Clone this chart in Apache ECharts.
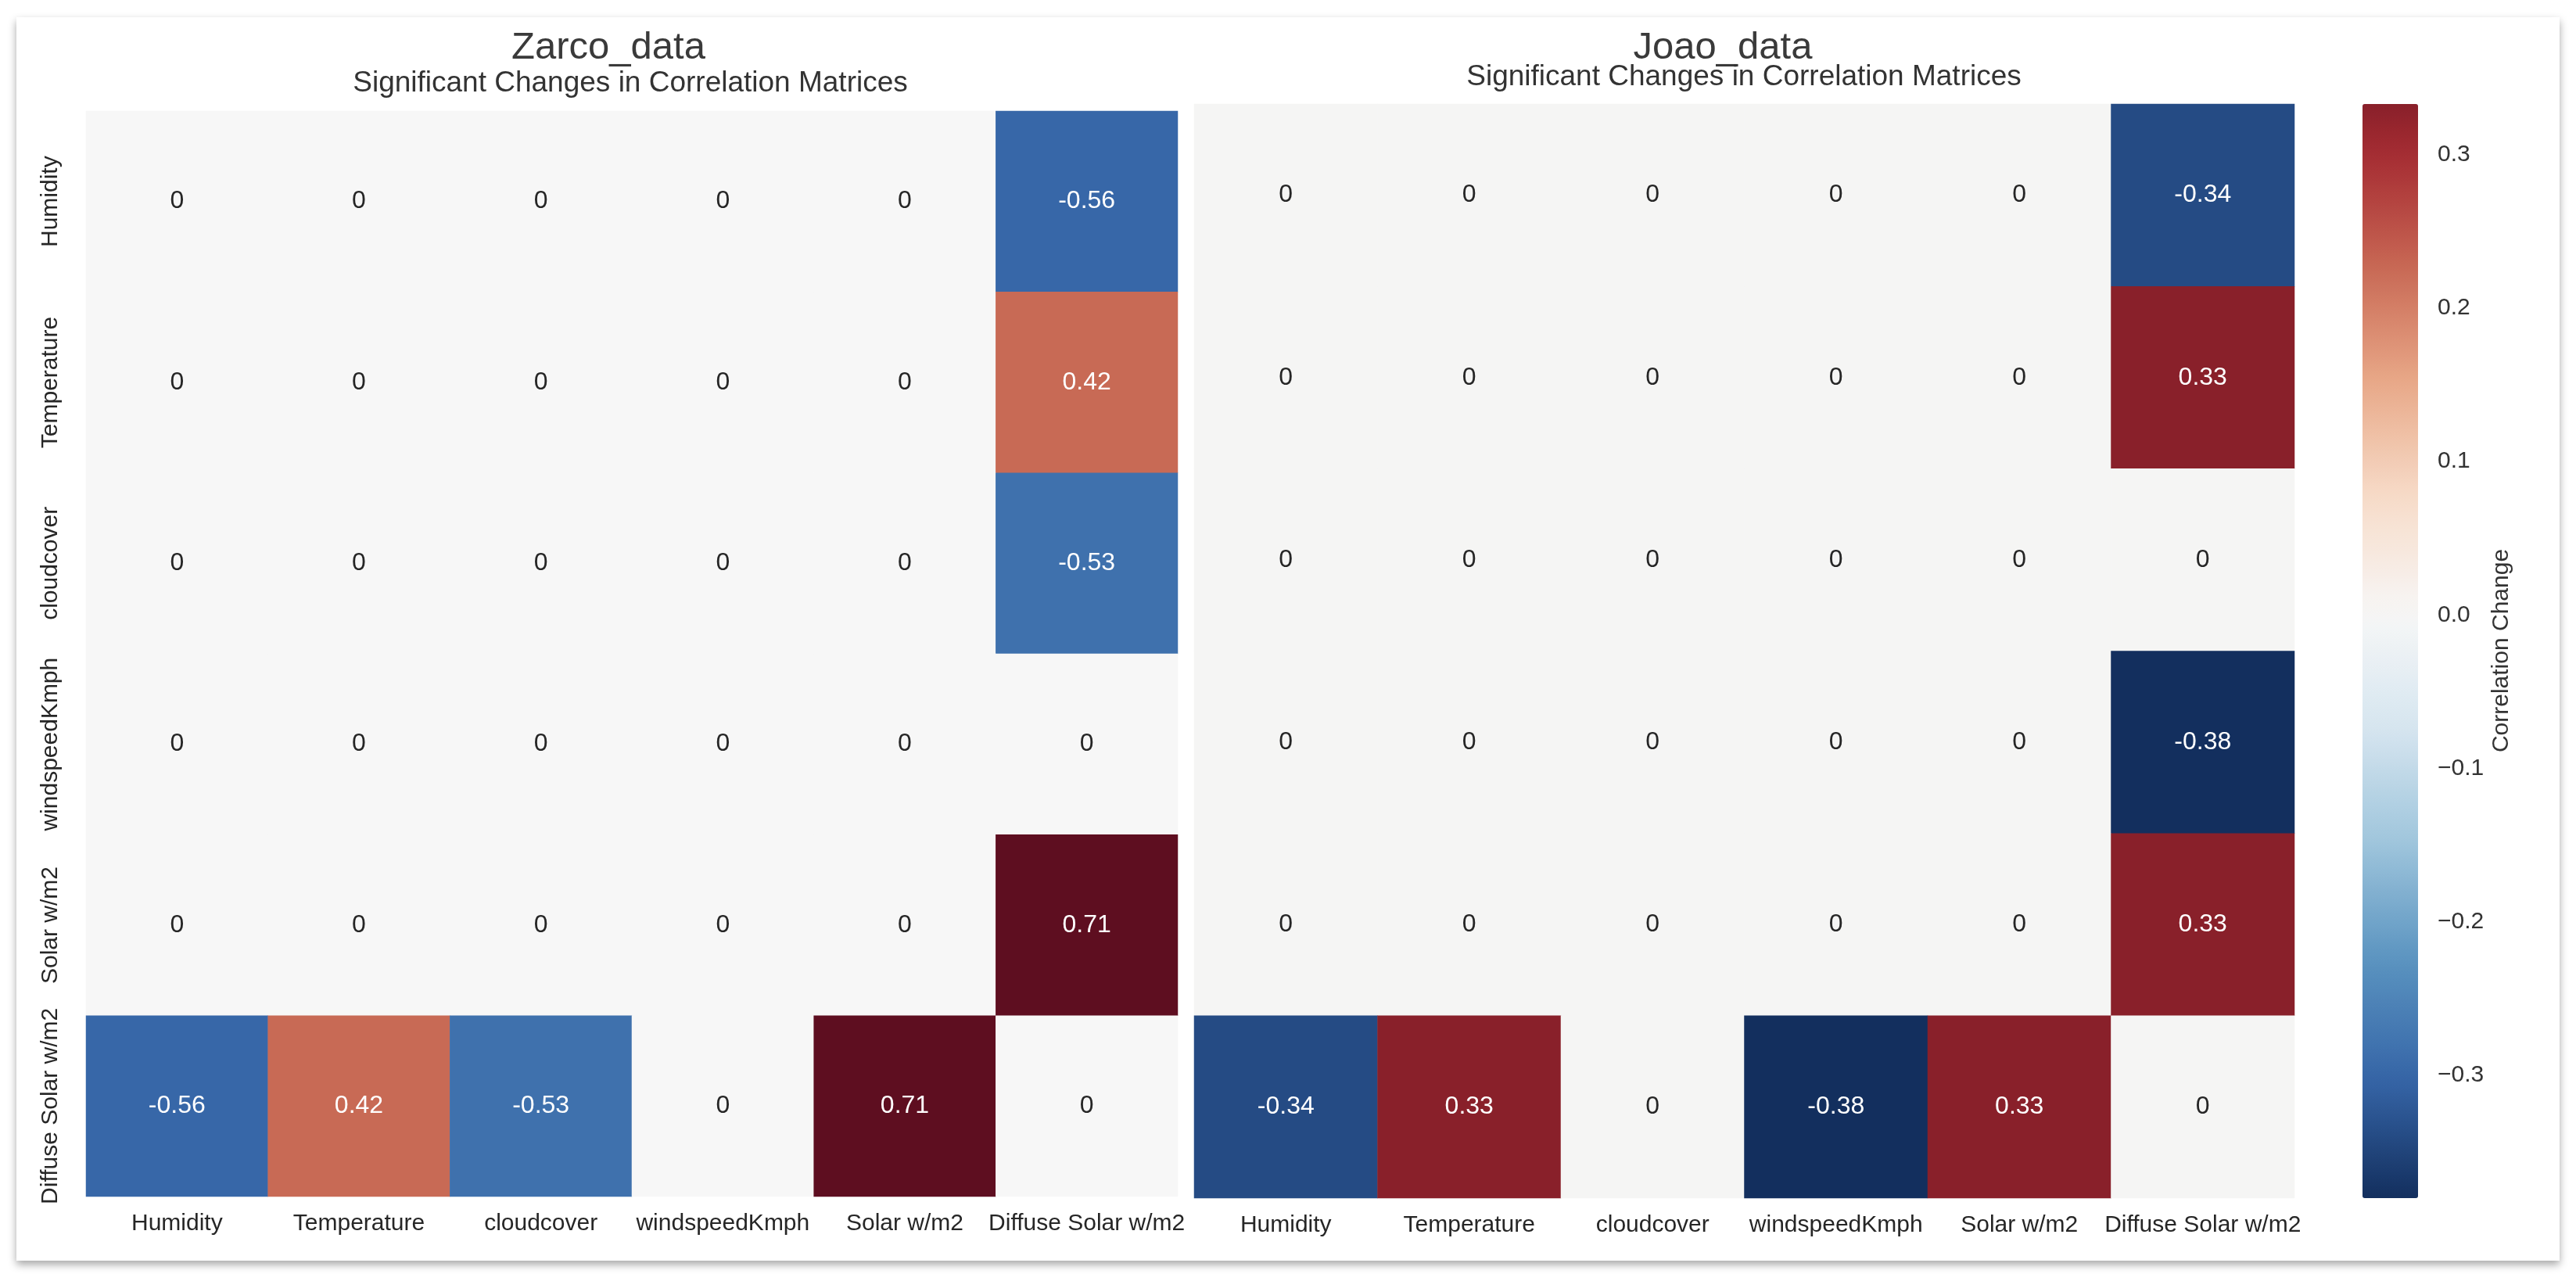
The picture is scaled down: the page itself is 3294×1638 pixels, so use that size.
<!DOCTYPE html>
<html>
<head>
<meta charset="utf-8">
<script src="https://cdn.jsdelivr.net/npm/echarts@6/dist/echarts.min.js"></script>
<style>
html,body{margin:0;padding:0;background:#fff;width:3294px;height:1638px;overflow:hidden}
#card{position:absolute;left:21px;top:22px;width:3252px;height:1590px;background:#fff;box-shadow:0 5px 10px rgba(0,0,0,0.35)}
#chart{position:absolute;left:0;top:0;width:3294px;height:1638px}
</style>
</head>
<body>
<div id="card"></div>
<div id="chart"></div>
<script>
// ---------------- data ----------------
const variables = ['Humidity', 'Temperature', 'cloudcover', 'windspeedKmph', 'Solar w/m2', 'Diffuse Solar w/m2'];
const zarcoTitle = 'Zarco_data';
const joaoTitle = 'Joao_data';
const subTitle = 'Significant Changes in Correlation Matrices';
const colorbarName = 'Correlation Change';
const zarcoChanges = [
  [0, 0, 0, 0, 0, -0.56],
  [0, 0, 0, 0, 0, 0.42],
  [0, 0, 0, 0, 0, -0.53],
  [0, 0, 0, 0, 0, 0],
  [0, 0, 0, 0, 0, 0.71],
  [-0.56, 0.42, -0.53, 0, 0.71, 0]
];
const joaoChanges = [
  [0, 0, 0, 0, 0, -0.34],
  [0, 0, 0, 0, 0, 0.333],
  [0, 0, 0, 0, 0, 0],
  [0, 0, 0, 0, 0, -0.38],
  [0, 0, 0, 0, 0, 0.333],
  [-0.34, 0.333, 0, -0.38, 0.333, 0]
];
const colorbarTicks = [-0.3, -0.2, -0.1, 0, 0.1, 0.2, 0.3];

// ---------------- colormap (RdBu_r, shown in Display-P3 tone) ----------------
const RDBU_R = ['#053061','#2166ac','#4393c3','#92c5de','#d1e5f0','#f7f7f7','#fddbc7','#f4a582','#d6604d','#b2182b','#67001f'];
function hex2rgb(h){return [parseInt(h.slice(1,3),16),parseInt(h.slice(3,5),16),parseInt(h.slice(5,7),16)];}
function cmapRGB(t){
  t = Math.max(0, Math.min(1, t));
  const p = t * (RDBU_R.length - 1);
  const i = Math.min(RDBU_R.length - 2, Math.floor(p));
  const f = p - i;
  const a = hex2rgb(RDBU_R[i]), b = hex2rgb(RDBU_R[i + 1]);
  return [0,1,2].map(k => a[k] + (b[k] - a[k]) * f);
}
function toLin(v){v /= 255; return v <= 0.04045 ? v / 12.92 : Math.pow((v + 0.055) / 1.055, 2.4);}
function fromLin(v){v = Math.max(0, Math.min(1, v)); return 255 * (v <= 0.0031308 ? 12.92 * v : 1.055 * Math.pow(v, 1 / 2.4) - 0.055);}
function toP3(c){
  const l = c.map(toLin);
  const r = 0.8225 * l[0] + 0.1774 * l[1];
  const g = 0.0332 * l[0] + 0.9669 * l[1];
  const b = 0.0171 * l[0] + 0.0724 * l[1] + 0.9108 * l[2];
  return [r, g, b].map(v => Math.round(fromLin(v)));
}
function rgbStr(c){return 'rgb(' + c.join(',') + ')';}
function stops(t0, t1, n){
  const out = [];
  for (let k = 0; k < n; k++) out.push(rgbStr(toP3(cmapRGB(t0 + (t1 - t0) * k / (n - 1)))));
  return out;
}
function lum(c){
  const l = c.map(toLin);
  return 0.2126 * l[0] + 0.7152 * l[1] + 0.0722 * l[2];
}
function flat(m){return [].concat.apply([], m);}
function cells(m, vrange){
  const out = [];
  m.forEach((row, r) => row.forEach((v, c) => {
    const col = cmapRGB((v / vrange + 1) / 2);
    out.push({value: [c, r, v], label: {color: lum(col) > 0.408 ? '#262626' : '#ffffff'}});
  }));
  return out;
}
function fmt(v){return v === 0 ? '0' : String(Number(v.toPrecision(2)));}

const zMin = Math.min.apply(null, flat(zarcoChanges)), zMax = Math.max.apply(null, flat(zarcoChanges));
const jMin = Math.min.apply(null, flat(joaoChanges)), jMax = Math.max.apply(null, flat(joaoChanges));
const zRange = Math.max(Math.abs(zMin), Math.abs(zMax));
const jRange = Math.max(Math.abs(jMin), Math.abs(jMax));

const FONT = "'Liberation Sans', Arial, Helvetica, sans-serif";
const TICK_COLOR = '#262626';

function catX(gi){
  return {type: 'category', gridIndex: gi, data: variables, axisLine: {show: false}, axisTick: {show: false},
    splitLine: {show: false}, axisLabel: {interval: 0, fontSize: 30, color: TICK_COLOR, margin: 20, fontFamily: FONT}};
}
function catY(gi, showLabels){
  return {type: 'category', gridIndex: gi, data: variables, inverse: true, axisLine: {show: false}, axisTick: {show: false},
    splitLine: {show: false}, axisLabel: {show: showLabels, interval: 0, rotate: 90, fontSize: 30, color: TICK_COLOR, margin: 30, fontFamily: FONT}};
}
function heat(idx, m, vrange){
  return {type: 'heatmap', xAxisIndex: idx, yAxisIndex: idx, data: cells(m, vrange),
    label: {show: true, fontSize: 32, fontFamily: FONT, formatter: p => fmt(p.value[2])},
    emphasis: {disabled: true}, itemStyle: {borderWidth: 0}};
}
function txt(s, x, y, size, color, rot){
  return {type: 'text', x: x, y: y, rotation: rot || 0, z: 100,
    style: {text: s, fill: color, font: size + 'px ' + FONT,
      textAlign: 'center', textVerticalAlign: 'middle'}};
}

const chart = echarts.init(document.getElementById('chart'), null, {renderer: 'canvas'});
chart.setOption({
  animation: false,
  backgroundColor: 'transparent',
  textStyle: {fontFamily: FONT},
  grid: [
    {left: 110, top: 142, width: 1396, height: 1388},
    {left: 1527, top: 133, width: 1407, height: 1399},
    {left: 3021, top: 133, width: 71, height: 1399}
  ],
  xAxis: [catX(0), catX(1), {type: 'value', gridIndex: 2, show: false}],
  yAxis: [catY(0, true), catY(1, false), {
    type: 'value', gridIndex: 2, position: 'right', min: jMin, max: jMax,
    axisLine: {show: false}, splitLine: {show: false},
    axisTick: {show: true, length: 13, customValues: colorbarTicks, lineStyle: {color: '#333', width: 2}},
    axisLabel: {customValues: colorbarTicks, margin: 25, fontSize: 30, color: '#333', fontFamily: FONT,
      formatter: v => (v < 0 ? '\u2212' : '') + Math.abs(v).toFixed(1)}
  }],
  visualMap: [
    {type: 'continuous', seriesIndex: 0, dimension: 2, min: -zRange, max: zRange, show: false,
      inRange: {color: stops(0, 1, 41)}},
    {type: 'continuous', seriesIndex: 1, dimension: 2, min: jMin, max: jMax, show: true,
      orient: 'vertical', left: 3021, top: 133, itemWidth: 71, itemHeight: 1399, padding: 0,
      calculable: false, hoverLink: false, text: null,
      inRange: {color: stops((jMin / jRange + 1) / 2, (jMax / jRange + 1) / 2, 41)}}
  ],
  series: [heat(0, zarcoChanges, zRange), heat(1, joaoChanges, jRange)],
  graphic: [
    txt(zarcoTitle, 778, 61, 49, '#3a3a3a'),
    txt(joaoTitle, 2203, 61, 49, '#3a3a3a'),
    txt(subTitle, 806, 107, 37, '#333'),
    txt(subTitle, 2230, 99, 37, '#333'),
    txt(colorbarName, 3199, 832, 30, '#333', Math.PI / 2)
  ]
});
</script>
</body>
</html>
